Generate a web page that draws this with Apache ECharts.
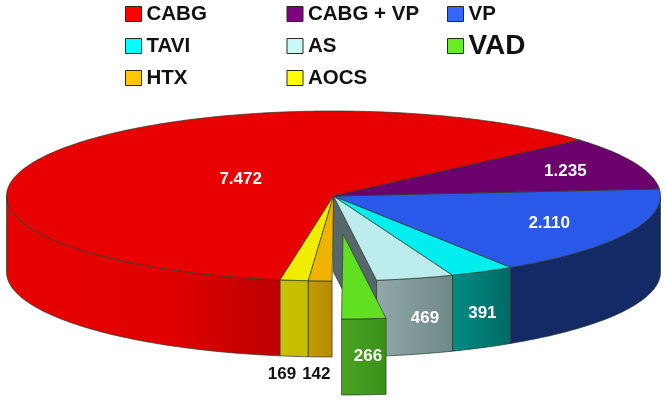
<!DOCTYPE html>
<html>
<head>
<meta charset="utf-8">
<script src="https://cdn.jsdelivr.net/npm/echarts@6/dist/echarts.min.js"></script>
<style>html,body{margin:0;padding:0;background:#fff}#c{width:666px;height:402px}</style>
</head>
<body>
<div id="c"></div>
<script>
// Data, counter-clockwise from the CABG slice
const categories = ['CABG', 'AOCS', 'HTX', 'VAD', 'AS', 'TAVI', 'VP', 'CABG + VP'];
const values = [7472, 169, 142, 266, 469, 391, 2110, 1235];
const valueLabels = ['7.472', '169', '142', '266', '469', '391', '2.110', '1.235'];
const legendColumns = [['CABG', 'TAVI', 'HTX'], ['CABG + VP', 'AS', 'AOCS'], ['VP', 'VAD']];

// Styles
const topColors = ['#e80000', '#f0ec00', '#f0b400', '#60e020', '#bcecec', '#00eeee', '#2a58e8', '#6c006c'];
const legendColors = ['#ff0000', '#ffff00', '#ffc800', '#66ee22', '#c8f8f8', '#00ffff', '#3366ff', '#800080'];
const rimColors = [
  [[0, '#e60000'], [0.6, '#e00000'], [1, '#bc0000']],
  [[0, '#c8c000'], [1, '#c4bc00']],
  [[0, '#c49a00'], [1, '#b88a00']],
  [[0, '#4aa422'], [1, '#3a9018']],
  [[0, '#92a8a8'], [1, '#6e8888']],
  [[0, '#008c84'], [1, '#006a64']],
  [[0, '#142a66'], [1, '#142a66']],
  [[0, '#400040'], [1, '#400040']]
];
// Geometry of the tilted disc
const CX = 333.5, CY = 196, RX = 327, RY = 85, DEPTH = 76, START = 41.1;
const EXPLODE = { VAD: [9.5, 38] };
const WALL = { AS: '#56686c' };
// Label placement: radial fraction of the disc, then px below it; black labels sit under the pie
const labelPlace = [[0.325, -3], [1.31, 68, '#111'], [1.29, 69, '#111'], [1.2, 21], [1.12, 30], [1.0, 42], [0.735, 0], [0.77, 1]];

const total = values.reduce((a, b) => a + b, 0);
let running = START;
const spans = values.map(v => { const s = running; running += v / total * 360; return [s, running]; });

function pt(deg, ox, oy, down) {
  const a = deg * Math.PI / 180;
  return [CX + ox + RX * Math.cos(a), CY + oy + down - RY * Math.sin(a)];
}
function arc(from, to, ox, oy, down) {
  const n = Math.max(2, Math.ceil(Math.abs(to - from))), out = [];
  for (let i = 0; i <= n; i++) out.push(pt(from + (to - from) * i / n, ox, oy, down));
  return out;
}
const line = { stroke: '#2a3a2a', lineWidth: 0.7 };

function renderSlice(params, api) {
  const i = api.value(1);
  const [from, to] = spans[i];
  const name = categories[i];
  const [ox, oy] = EXPLODE[name] || [0, 0];
  const children = [];
  const apex = [CX + ox, CY + oy];

  if (WALL[name]) {
    const e = pt(from, ox, oy, 0);
    children.push({ type: 'polygon', shape: { points: [apex, e, [e[0], e[1] + DEPTH], [apex[0], apex[1] + DEPTH]] },
      style: Object.assign({ fill: WALL[name] }, line) });
  }
  // front rim: the part of the slice in the lower half of the ellipse
  const ranges = [[180, 360], [540, 720]];
  ranges.forEach(([lo, hi]) => {
    const a = Math.max(from, lo), b = Math.min(to, hi);
    if (b > a) {
      const pts = arc(a, b, ox, oy, 0).concat(arc(b, a, ox, oy, DEPTH));
      children.push({ type: 'polygon', shape: { points: pts },
        style: Object.assign({ fill: { type: 'linear', x: 0, y: 0, x2: 1, y2: 0,
          colorStops: rimColors[i].map(s => ({ offset: s[0], color: s[1] })) } }, line) });
    }
  });
  // top face
  children.push({ type: 'polygon', shape: { points: [apex].concat(arc(from, to, ox, oy, 0)) },
    style: Object.assign({ fill: topColors[i] }, line) });
  // value label
  const mid = (from + to) / 2, p = labelPlace[i], a = mid * Math.PI / 180;
  children.push({ type: 'text', z2: 10,
    x: CX + ox + RX * p[0] * Math.cos(a), y: CY + oy + p[1] - RY * p[0] * Math.sin(a),
    style: { text: valueLabels[i], fill: p[2] || '#fff', font: 'bold 17px "Liberation Sans", Arial, sans-serif',
      align: 'center', verticalAlign: 'middle' } });
  return { type: 'group', children };
}

const series = categories.map((name, i) => ({
  type: 'custom', name, coordinateSystem: 'none', silent: true, animation: false,
  z: name in EXPLODE ? 4 : 2,
  itemStyle: { color: legendColors[i] },
  data: [[values[i], i]],
  renderItem: renderSlice
}));

const legendBase = {
  orient: 'vertical', top: 3.5, selectedMode: false, icon: 'rect', itemWidth: 16, itemHeight: 15,
  itemStyle: { borderColor: '#2a2a1a', borderWidth: 1 },
  textStyle: { fontFamily: '"Liberation Sans", Arial, sans-serif', fontWeight: 'bold', fontSize: 20.5, color: '#111' },
  padding: 0
};
const legend = [
  Object.assign({}, legendBase, { left: 125, itemGap: 11, data: legendColumns[0] }),
  Object.assign({}, legendBase, { left: 286.5, itemGap: 11, data: legendColumns[1] }),
  Object.assign({}, legendBase, { left: 447, itemGap: 7.5, data: [legendColumns[2][0],
    { name: legendColumns[2][1], textStyle: { fontSize: 28 } }] })
];

const chart = echarts.init(document.getElementById('c'), null, { renderer: 'canvas' });
chart.setOption({ animation: false, backgroundColor: '#fff', legend, series });
</script>
</body>
</html>
